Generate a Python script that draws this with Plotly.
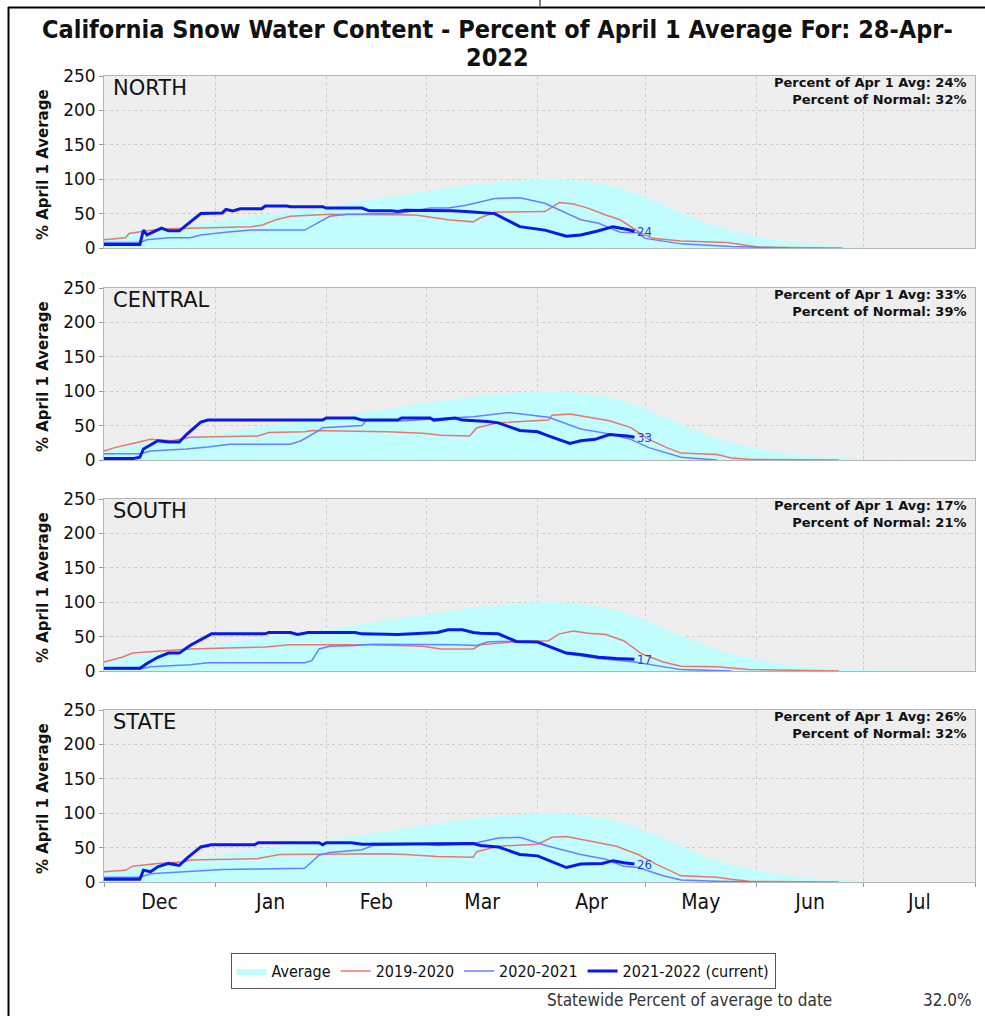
import plotly.graph_objects as go

W, H = 985, 1016

# ---------------- data ----------------
AVG_D = ["12-01", "12-15", "01-01", "01-15", "02-01", "02-15", "03-01", "03-15", "04-01", "04-08",
         "04-15", "04-22", "05-01", "05-10", "05-20", "06-01", "06-10", "06-20", "07-01", "07-15",
         "08-01"]
AVG_V = [14, 26, 38, 49, 60, 72, 83, 93, 100, 100, 96, 90, 74, 54, 33, 17, 9, 4, 1.5, 0.5, 0]

NORTH_CUR_D = ["12-01", "12-11", "12-12", "12-13", "12-17", "12-19", "12-22", "12-28", "01-03", "01-04",
               "01-06", "01-08", "01-14", "01-15", "01-21", "01-22", "01-31", "02-01", "02-11", "02-13",
               "02-19", "02-21", "02-23", "03-06", "03-08", "03-12", "03-16", "03-20", "03-27", "04-03",
               "04-09", "04-13", "04-18", "04-22", "04-26", "04-28"]
NORTH_CUR_V = [5, 5, 26, 19, 29, 25, 25, 50, 51, 56, 54, 57, 57, 61, 61, 60, 60, 58, 58, 54,
               54, 53, 55, 55, 54, 53, 51, 50, 31, 26, 17, 19, 25, 31, 27, 24]
NORTH_1920_D = ["12-01", "12-07", "12-08", "12-13", "12-19", "01-11", "01-14", "01-18", "01-22", "02-02",
                "02-26", "03-02", "03-07", "03-14", "03-16", "03-20", "04-03", "04-04", "04-07", "04-11",
                "04-15", "04-20", "04-24", "04-29", "05-03", "05-11", "05-24", "05-29", "06-02", "06-25"]
NORTH_1920_V = [12, 15, 21, 25, 28, 31, 33, 41, 46, 49, 48, 45, 41, 38, 44, 52, 53, 56, 66, 64,
                58, 48, 41, 24, 14, 10, 8, 4, 1, 0]
NORTH_2021_D = ["12-01", "12-11", "12-13", "12-19", "12-25", "12-28", "01-04", "01-11", "01-26", "01-30",
                "02-02", "02-07", "02-21", "03-02", "03-07", "03-12", "03-20", "03-27", "04-03", "04-13",
                "04-18", "04-24", "04-29", "05-01", "05-11", "05-25", "06-02", "06-10"]
NORTH_2021_V = [8, 8, 12, 15, 15, 19, 23, 26, 26, 38, 46, 49, 50, 58, 58, 62, 72, 73, 65, 41,
                36, 23, 22, 14, 6, 2, 1, 0]

CENTRAL_CUR_D = ["12-01", "12-09", "12-11", "12-12", "12-16", "12-19", "12-22", "12-24", "12-28", "12-30",
                 "01-31", "02-01", "02-09", "02-11", "02-21", "02-22", "03-02", "03-03", "03-09", "03-11",
                 "03-18", "03-21", "03-27", "04-01", "04-04", "04-10", "04-13", "04-17", "04-21", "04-26",
                 "04-28"]
CENTRAL_CUR_V = [2, 2, 4, 16, 28, 26, 26, 37, 55, 58, 58, 61, 61, 58, 58, 61, 61, 58, 61, 58,
                 56, 54, 43, 41, 35, 24, 28, 30, 37, 35, 33]
CENTRAL_1920_D = ["12-01", "12-04", "12-09", "12-14", "12-20", "12-25", "01-13", "01-16", "01-26", "01-28",
                  "02-18", "02-28", "03-05", "03-13", "03-15", "03-21", "04-04", "04-05", "04-10", "04-13",
                  "04-21", "04-27", "05-02", "05-07", "05-11", "05-21", "05-25", "05-30", "06-24"]
CENTRAL_1920_V = [13, 18, 24, 30, 28, 33, 35, 40, 41, 43, 41, 39, 36, 35, 47, 54, 58, 65, 67, 64,
                  57, 47, 30, 18, 10, 8, 3, 1, 0]
CENTRAL_2021_D = ["12-01", "12-11", "12-14", "12-24", "12-30", "01-05", "01-22", "01-25", "01-30", "01-31",
                  "02-11", "02-12", "02-23", "02-28", "03-14", "03-18", "03-24", "04-04", "04-13", "04-21",
                  "04-27", "05-02", "05-11", "05-21"]
CENTRAL_2021_V = [9, 9, 13, 16, 19, 23, 23, 28, 43, 47, 50, 57, 57, 59, 63, 65, 69, 62, 45, 38,
                  30, 18, 4, 0]

SOUTH_CUR_D = ["12-01", "12-11", "12-13", "12-16", "12-19", "12-22", "12-25", "12-29", "12-31", "01-15",
               "01-16", "01-22", "01-24", "01-27", "02-09", "02-11", "02-21", "02-28", "03-04", "03-07",
               "03-11", "03-14", "03-16", "03-21", "03-26", "04-01", "04-09", "04-13", "04-18", "04-23",
               "04-28"]
SOUTH_CUR_V = [4, 4, 11, 20, 26, 26, 37, 49, 54, 54, 56, 56, 53, 56, 56, 54, 53, 55, 56, 60,
               60, 56, 55, 54, 43, 42, 26, 24, 20, 18, 17]
SOUTH_1920_D = ["12-01", "12-06", "12-09", "12-16", "12-25", "01-15", "01-22", "02-14", "02-28", "03-05",
                "03-14", "03-16", "03-25", "04-04", "04-07", "04-11", "04-15", "04-20", "04-25", "04-30",
                "05-06", "05-11", "05-21", "05-30", "06-24"]
SOUTH_1920_V = [13, 20, 26, 29, 32, 35, 38, 38, 36, 32, 32, 38, 42, 44, 54, 58, 55, 53, 44, 25,
                13, 7, 6, 2, 0]
SOUTH_2021_D = ["12-01", "12-11", "12-14", "12-25", "12-30", "01-26", "01-28", "01-30", "02-02", "02-09",
                "02-14", "03-04", "03-09", "03-15", "03-18", "03-21", "03-26", "04-01", "04-09", "04-18",
                "04-28", "05-07", "05-11", "05-25"]
SOUTH_2021_V = [3, 3, 6, 9, 12, 12, 15, 32, 36, 37, 39, 39, 38, 37, 42, 43, 43, 42, 25, 18,
                13, 6, 2, 0]

STATE_CUR_D = ["12-01", "12-11", "12-12", "12-14", "12-16", "12-19", "12-22", "12-24", "12-28", "12-31",
               "01-12", "01-13", "01-30", "01-31", "02-01", "02-08", "02-11", "02-20", "02-22", "03-14",
               "03-16", "03-21", "03-27", "04-01", "04-09", "04-13", "04-19", "04-22", "04-25", "04-28"]
STATE_CUR_V = [4, 4, 17, 15, 22, 27, 24, 34, 51, 54, 54, 57, 57, 54, 57, 57, 55, 55, 56, 56,
               53, 51, 40, 38, 21, 26, 27, 31, 28, 26]
STATE_1920_D = ["12-01", "12-07", "12-09", "12-16", "12-23", "12-25", "01-13", "01-19", "02-18", "02-23",
                "03-04", "03-14", "03-15", "03-21", "04-01", "04-05", "04-09", "04-15", "04-23", "04-29",
                "05-04", "05-11", "05-21", "05-25", "05-30", "06-24"]
STATE_1920_V = [15, 17, 23, 27, 29, 32, 34, 40, 41, 40, 37, 36, 44, 52, 55, 65, 66, 60, 52, 40,
                26, 9, 7, 4, 1, 0]
STATE_2021_D = ["12-01", "12-11", "12-14", "12-25", "01-03", "01-13", "01-26", "01-30", "02-02", "02-11",
                "02-14", "02-28", "03-04", "03-14", "03-21", "03-27", "04-04", "04-13", "04-20", "04-25",
                "04-29", "05-06", "05-11", "05-21", "06-01"]
STATE_2021_V = [7, 7, 12, 15, 18, 19, 20, 39, 43, 47, 53, 55, 53, 56, 64, 65, 52, 40, 33, 23,
                21, 9, 3, 1, 0]

PANEL_NAMES = ["NORTH", "CENTRAL", "SOUTH", "STATE"]
PCT_APR1 = [24, 33, 17, 26]
PCT_NORMAL = [32, 39, 21, 32]
LEGEND_NAMES = ["Average", "2019-2020", "2020-2021", "2021-2022 (current)"]
STATEWIDE_PCT = "32.0%"

SERIES = [
    (NORTH_1920_D, NORTH_1920_V, NORTH_2021_D, NORTH_2021_V, NORTH_CUR_D, NORTH_CUR_V),
    (CENTRAL_1920_D, CENTRAL_1920_V, CENTRAL_2021_D, CENTRAL_2021_V, CENTRAL_CUR_D, CENTRAL_CUR_V),
    (SOUTH_1920_D, SOUTH_1920_V, SOUTH_2021_D, SOUTH_2021_V, SOUTH_CUR_D, SOUTH_CUR_V),
    (STATE_1920_D, STATE_1920_V, STATE_2021_D, STATE_2021_V, STATE_CUR_D, STATE_CUR_V),
]

# ---------------- styling ----------------
C_AVG = "#C2FDFD"
C_RED = "#E8766E"
C_THIN = "#6E7CFF"
C_CUR = "#0A1AE6"
BG = "#EEEEEE"
GRID = "#CDCDCD"
FONT = "DejaVu Sans"
COND = "DejaVu Sans Condensed, Liberation Sans Narrow, DejaVu Sans"

# pixel positions of plot areas (top, bottom)
PANEL_PX = [(76, 248), (288, 460), (499, 671), (710, 882)]
X_LEFT, X_RIGHT = 104, 975


def d(md):
    m = int(md[:2])
    return ("2021-" if m >= 10 else "2022-") + md


def px(x):
    return x / W


def py(y):
    return 1 - y / H


fig = go.Figure()
annotations = []

for i, name in enumerate(PANEL_NAMES):
    k = "" if i == 0 else str(i + 1)
    xa, ya = "x" + k, "y" + k
    r_d, r_v, b_d, b_v, c_d, c_v = SERIES[i]
    first = i == 0
    fig.add_trace(go.Scatter(x=[d(s) for s in AVG_D], y=AVG_V, mode="lines",
                             line=dict(width=0, color=C_AVG, shape="spline", smoothing=0.8),
                             fill="tozeroy", fillcolor=C_AVG, name=LEGEND_NAMES[0], legendgroup="a",
                             showlegend=first, xaxis=xa, yaxis=ya))
    fig.add_trace(go.Scatter(x=[d(s) for s in r_d], y=r_v, mode="lines", line=dict(width=1.5, color=C_RED),
                             name=LEGEND_NAMES[1], legendgroup="r", showlegend=first, xaxis=xa, yaxis=ya))
    fig.add_trace(go.Scatter(x=[d(s) for s in b_d], y=b_v, mode="lines", line=dict(width=1.5, color=C_THIN),
                             name=LEGEND_NAMES[2], legendgroup="b", showlegend=first, xaxis=xa, yaxis=ya))
    fig.add_trace(go.Scatter(x=[d(s) for s in c_d], y=c_v, mode="lines", line=dict(width=3, color=C_CUR),
                             name=LEGEND_NAMES[3], legendgroup="c", showlegend=first, xaxis=xa, yaxis=ya))

    top, bot = PANEL_PX[i]
    bottom_panel = i == len(PANEL_NAMES) - 1
    fig.update_layout({
        "xaxis" + k: dict(
            domain=[px(X_LEFT), px(X_RIGHT)], anchor=ya, type="date", automargin=False,
            range=["2021-12-01", "2022-08-01"], dtick="M1", tick0="2021-12-01",
            tickformat="%b", ticklabelmode="period",
            showticklabels=bottom_panel, ticks="outside" if bottom_panel else "",
            ticklen=4, tickcolor="#999999", ticklabelstandoff=-3,
            tickfont=dict(family=COND, size=21, color="#111111"),
            showgrid=True, gridcolor=GRID, griddash="dot", gridwidth=1,
            showline=True, mirror=True, linecolor="#B4B4B4", linewidth=1,
            fixedrange=True,
        ),
        "yaxis" + k: dict(
            domain=[py(bot), py(top)], anchor=xa, range=[0, 250], dtick=50, automargin=False,
            tickfont=dict(family=FONT, size=17, color="#111111"),
            ticks="outside", ticklen=4, tickcolor="#999999",
            showgrid=True, gridcolor=GRID, griddash="dot", gridwidth=1,
            zeroline=False, showline=True, mirror=True, linecolor="#B4B4B4", linewidth=1,
            fixedrange=True,
        ),
    })

    # panel name
    annotations.append(dict(text=name, x=px(111), y=py(top + 12), xref="paper", yref="paper",
                            xanchor="left", yanchor="middle", showarrow=False,
                            font=dict(family=FONT, size=21, color="#111111")))
    # top right info
    annotations.append(dict(text=f"Percent of Apr 1 Avg: {PCT_APR1[i]}%<br>Percent of Normal: {PCT_NORMAL[i]}%",
                            x=px(968), y=py(top + 15), xref="paper", yref="paper", align="right",
                            xanchor="right", yanchor="middle", showarrow=False,
                            font=dict(family=FONT, size=13, color="#111111", weight="bold")))
    # y axis title
    annotations.append(dict(text="% April 1 Average", x=px(43), y=py((top + bot) / 2 + 3), xref="paper", yref="paper",
                            textangle=-90, xanchor="center", yanchor="middle", showarrow=False,
                            font=dict(family=FONT, size=15, color="#111111", weight="bold")))
    # end label of current season
    annotations.append(dict(text=str(PCT_APR1[i]), x=d(c_d[-1]), y=c_v[-1], xref=xa, yref=ya,
                            xanchor="left", yanchor="middle", xshift=1, showarrow=False,
                            font=dict(family=COND, size=13, color="#2A3AE8")))

# title (two lines)
annotations.append(dict(text="California Snow Water Content - Percent of April 1 Average For: 28-Apr-",
                        x=px(497), y=py(30), xref="paper", yref="paper", xanchor="center", yanchor="middle",
                        showarrow=False, font=dict(family=COND, size=25, color="#111111", weight="bold")))
annotations.append(dict(text="2022",
                        x=px(497), y=py(57), xref="paper", yref="paper", xanchor="center", yanchor="middle",
                        showarrow=False, font=dict(family=COND, size=25, color="#111111", weight="bold")))
# bottom text
annotations.append(dict(text="Statewide Percent of average to date", x=px(545), y=py(1000), xref="paper", yref="paper",
                        xanchor="left", yanchor="middle", showarrow=False,
                        font=dict(family=COND, size=17, color="#333333")))
annotations.append(dict(text=STATEWIDE_PCT, x=px(974), y=py(1000), xref="paper", yref="paper",
                        xanchor="right", yanchor="middle", showarrow=False,
                        font=dict(family=COND, size=17, color="#333333")))

shapes = [
    dict(type="line", xref="paper", yref="paper", x0=px(8), x1=1, y0=py(7.5), y1=py(7.5),
         line=dict(color="#000000", width=2)),
    dict(type="line", xref="paper", yref="paper", x0=px(8.5), x1=px(8.5), y0=py(7), y1=0,
         line=dict(color="#000000", width=2)),
    dict(type="line", xref="paper", yref="paper", x0=px(540), x1=px(540), y0=1, y1=py(6),
         line=dict(color="#000000", width=1)),
]

fig.update_layout(
    width=W, height=H, margin=dict(l=0, r=0, t=0, b=0, autoexpand=False),
    paper_bgcolor="#FFFFFF", plot_bgcolor=BG,
    font=dict(family=FONT, color="#111111"),
    annotations=annotations, shapes=shapes,
    legend=dict(orientation="h", x=px(503), xanchor="center", y=py(953), yanchor="top",
                bgcolor="#FFFFFF", bordercolor="#555555", borderwidth=1,
                font=dict(family=COND, size=16, color="#111111"), itemwidth=30,
                traceorder="normal"),
    showlegend=True,
)

fig.write_html("out.html")
